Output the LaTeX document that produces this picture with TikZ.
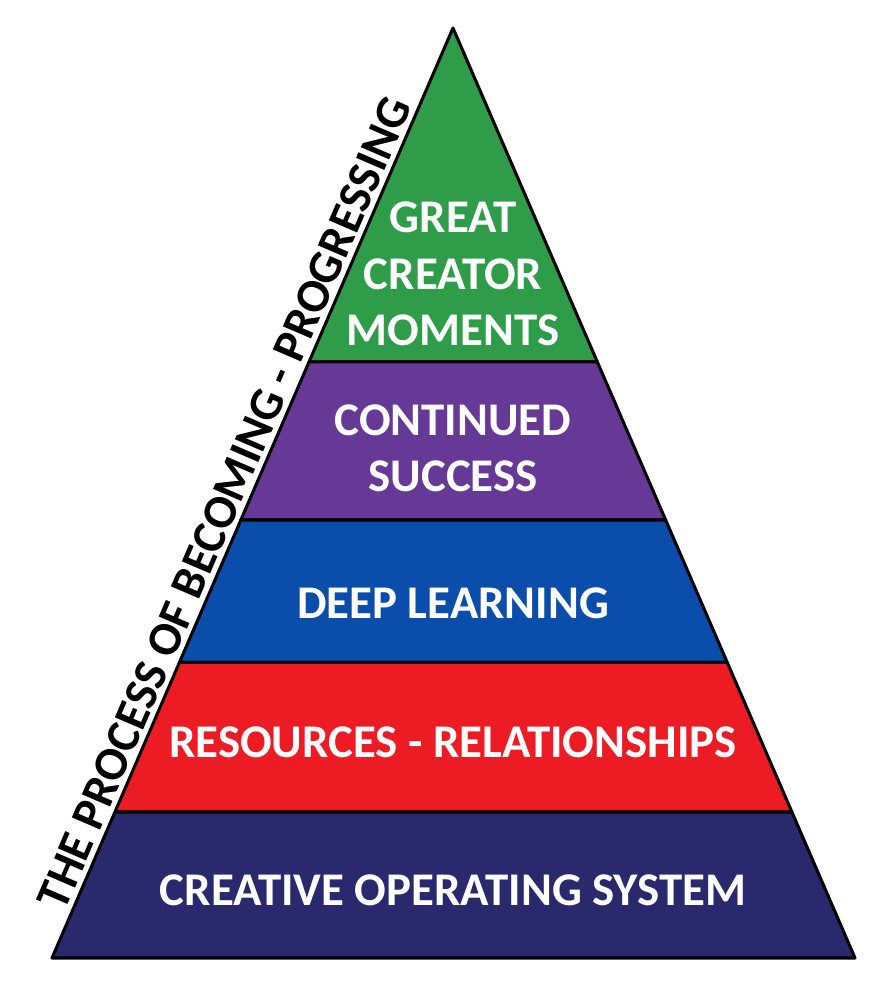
\documentclass[tikz,border=0pt]{standalone}
\usepackage{fontspec}
\setmainfont{Carlito}
\usetikzlibrary{calc}
\definecolor{lvlgreen}{HTML}{2E9C48}
\definecolor{lvlpurple}{HTML}{663996}
\definecolor{lvlblue}{HTML}{0B4DAB}
\definecolor{lvlred}{HTML}{EC1B24}
\definecolor{lvlnavy}{HTML}{2B296E}
\tikzset{
  layer/.style={draw=black, line width=2.6pt, line join=round},
  lbl/.style={text=white, font=\bfseries\fontsize{40}{48}\selectfont, align=center},
}
\begin{document}
\begin{tikzpicture}[x=0.03cm, y=-0.03cm]
	% frame
	\useasboundingbox (0,0) rectangle (882,988);
	% corners of the pyramid
	\coordinate (apex) at (453,28);
	\coordinate (bl) at (52,958);
	\coordinate (br) at (855,958);
	\foreach \n/\t in {1/0.359, 2/0.529, 3/0.682, 4/0.843}{
		\coordinate (l\n) at ($(apex)!\t!(bl)$);
		\coordinate (r\n) at ($(apex)!\t!(br)$);
	}
	% layers
	\draw[layer, fill=lvlgreen] (apex) -- (r1) -- (l1) -- cycle;
	\draw[layer, fill=lvlpurple] (l1) -- (r1) -- (r2) -- (l2) -- cycle;
	\draw[layer, fill=lvlblue] (l2) -- (r2) -- (r3) -- (l3) -- cycle;
	\draw[layer, fill=lvlred] (l3) -- (r3) -- (r4) -- (l4) -- cycle;
	\draw[layer, fill=lvlnavy] (l4) -- (r4) -- (br) -- (bl) -- cycle;
	% texts
	\node[lbl] (great) at (453,274) {GREAT\\CREATOR\\MOMENTS};
	\node[lbl] (success) at (453,448) {CONTINUED\\SUCCESS};
	\node[lbl] (deep) at (453,603) {DEEP LEARNING};
	\node[lbl] (res) at (453,742) {RESOURCES - RELATIONSHIPS};
	\node[lbl] (cos) at (453,890) {CREATIVE OPERATING SYSTEM};
	\node[font=\bfseries\fontsize{40.5}{44}\selectfont, rotate=66.7, anchor=south, inner sep=5pt]
		(side) at ($(apex)!0.52!(bl)$) {THE PROCESS OF BECOMING - PROGRESSING};
\end{tikzpicture}
\end{document}
